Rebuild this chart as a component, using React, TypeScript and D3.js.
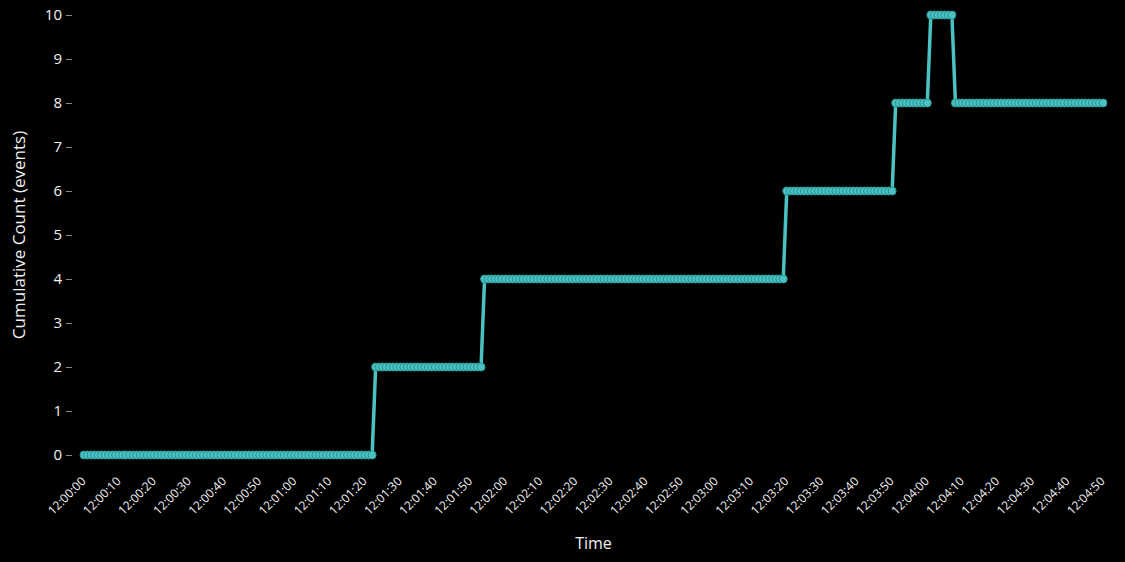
import { useEffect, useRef } from "react";
import * as d3 from "d3";

// step levels of the series and how many samples sit on each level
const levels = [0, 2, 4, 6, 8, 10, 8];
const counts = [83, 31, 86, 31, 10, 7, 43];

const yTicks = [0, 1, 2, 3, 4, 5, 6, 7, 8, 9, 10];

const xLabels = [
    "12:00:00", "12:00:10", "12:00:20", "12:00:30", "12:00:40", "12:00:50",
    "12:01:00", "12:01:10", "12:01:20", "12:01:30", "12:01:40", "12:01:50",
    "12:02:00", "12:02:10", "12:02:20", "12:02:30", "12:02:40", "12:02:50",
    "12:03:00", "12:03:10", "12:03:20", "12:03:30", "12:03:40", "12:03:50",
    "12:04:00", "12:04:10", "12:04:20", "12:04:30", "12:04:40", "12:04:50",
];

const xTitle = "Time";
const yTitle = "Cumulative Count (events)";

const W = 1125;
const H = 562;

function App() {
    const ref = useRef<SVGSVGElement>(null);

    useEffect(() => {
        const svg = d3.select(ref.current);
        svg.selectAll("*").remove();

        // expand run lengths into samples
        const values: number[] = [];
        levels.forEach((lv, i) => {
            for (let k = 0; k < counts[i]; k++) values.push(lv);
        });
        const data = values.map((v, i) => ({ i, v }));

        const x = d3.scaleLinear().domain([0, data.length - 1]).range([84, 1103]);
        const y = d3.scaleLinear().domain([0, 10]).range([455, 15]);

        svg.append("rect").attr("width", W).attr("height", H).attr("fill", "#000");

        // y axis
        const gy = svg.append("g").attr("transform", "translate(72,0)")
            .call(d3.axisLeft(y).tickValues(yTicks).tickSize(6).tickPadding(4).tickFormat(d3.format("d")));
        gy.select(".domain").remove();
        gy.selectAll("line").attr("stroke", "#8a8a8a");
        gy.selectAll("text")
            .attr("fill", "#f0f0f0")
            .attr("font-size", 15)
            .attr("font-family", "Open Sans, sans-serif");

        // x axis
        const tickIdx = xLabels.map((_, i) => i * 10);
        const gx = svg.append("g").attr("transform", "translate(0,462)")
            .call(d3.axisBottom(x).tickValues(tickIdx).tickSize(0).tickPadding(0)
                .tickFormat((d, i) => xLabels[i]));
        gx.select(".domain").remove();
        gx.selectAll("text")
            .attr("fill", "#f0f0f0")
            .attr("font-size", 12)
            .attr("font-family", "Open Sans, sans-serif")
            .attr("text-anchor", "end")
            .attr("dy", 0)
            .attr("transform", "translate(2,20) rotate(-45)");

        // titles
        svg.append("text")
            .attr("x", (84 + 1103) / 2).attr("y", 549)
            .attr("text-anchor", "middle")
            .attr("fill", "#f0f0f0")
            .attr("font-size", 16)
            .attr("font-family", "Open Sans, sans-serif")
            .text(xTitle);
        svg.append("text")
            .attr("transform", `translate(25,${(15 + 455) / 2}) rotate(-90)`)
            .attr("text-anchor", "middle")
            .attr("fill", "#f0f0f0")
            .attr("font-size", 17)
            .attr("font-family", "Open Sans, sans-serif")
            .text(yTitle);

        const line = d3.line<{ i: number; v: number }>()
            .x(d => x(d.i))
            .y(d => y(d.v));

        svg.append("path")
            .datum(data)
            .attr("fill", "none")
            .attr("stroke", "#4ac2c2")
            .attr("stroke-width", 3.5)
            .attr("d", line);

        svg.append("g")
            .selectAll("circle")
            .data(data)
            .enter()
            .append("circle")
            .attr("cx", d => x(d.i))
            .attr("cy", d => y(d.v))
            .attr("r", 4)
            .attr("fill", "#4ac2c2")
            .attr("stroke", "#2b9596")
            .attr("stroke-width", 1);
    }, []);

    return (
        <div style={{ position: "fixed", left: 0, top: 0, width: W, height: H, background: "#000" }}>
            <svg ref={ref} width={W} height={H}></svg>
        </div>
    );
}

export default App;
